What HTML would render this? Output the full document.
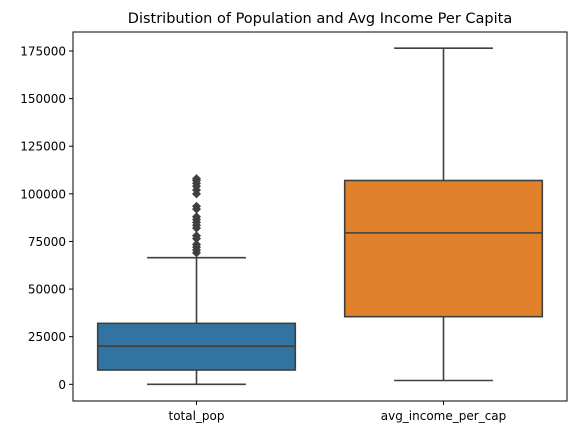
<!DOCTYPE html>
<html><head><meta charset="utf-8"><style>body{margin:0;background:#fff}svg{display:block;font-family:"DejaVu Sans","Liberation Sans",sans-serif}</style></head>
<body>
<svg id="c" width="578" height="435"></svg>
<script>
const categories=["total_pop","avg_income_per_cap"];
const q1s=[7500,35500];
const medians=[20000,79500];
const q3s=[32000,107000];
const whiskLo=[0,2000];
const whiskHi=[66500,176500];
const outliers=[[69000,70500,72000,73500,76500,78000,82000,83500,85000,86500,88000,92000,93500,100000,102000,104000,105500,107000,108000],[]];
const colors=["#3274a1","#e1812c"];
const yTicks=[0,25000,50000,75000,100000,125000,150000,175000];
const L=73,R=567,T=32,B=401;
const y=v=>384.3-v*(333.3/175000);
const xc=i=>L+(R-L)*(i+0.5)/categories.length;
const s=document.getElementById('c');const ns="http://www.w3.org/2000/svg";
function mk(t,a,p){const e=document.createElementNS(ns,t);for(const k in a)e.setAttribute(k,a[k]);(p||s).appendChild(e);return e;}
const title=mk('text',{x:(L+R)/2,y:23,'text-anchor':'middle','font-size':14.5,fill:'#000'});title.textContent="Distribution of Population and Avg Income Per Capita";


yTicks.forEach(v=>{const g=mk('g',{});


mk('line',{x1:L-4,x2:L,y1:y(v),y2:y(v),stroke:'#000'},g);
const t=mk('text',{x:L-7,y:y(v)+4.5,'text-anchor':'end','font-size':12,fill:'#000'},g);t.textContent=v;});
const hw=(R-L)/categories.length*0.4;
categories.forEach((c,i)=>{const g=mk('g',{});


const x=xc(i);const st={stroke:'#3f3f3f','stroke-width':1.6};
mk('line',Object.assign({x1:x,x2:x,y1:y(q3s[i]),y2:y(whiskHi[i])},st),g);
mk('line',Object.assign({x1:x,x2:x,y1:y(q1s[i]),y2:y(whiskLo[i])},st),g);
mk('line',Object.assign({x1:x-hw/2,x2:x+hw/2,y1:y(whiskHi[i]),y2:y(whiskHi[i])},st),g);
mk('line',Object.assign({x1:x-hw/2,x2:x+hw/2,y1:y(whiskLo[i]),y2:y(whiskLo[i])},st),g);
mk('rect',Object.assign({x:x-hw,y:y(q3s[i]),width:2*hw,height:y(q1s[i])-y(q3s[i]),fill:colors[i]},st),g);
mk('line',Object.assign({x1:x-hw,x2:x+hw,y1:y(medians[i]),y2:y(medians[i])},st),g);
outliers[i].forEach(o=>{const d=mk('path',{d:`M${x} ${y(o)-4.5}L${x+4.5} ${y(o)}L${x} ${y(o)+4.5}L${x-4.5} ${y(o)}Z`,fill:'#3f3f3f'},g);

});
mk('line',{x1:x,x2:x,y1:B,y2:B+4,stroke:'#000'},g);
const t=mk('text',{x:x,y:B+19,'text-anchor':'middle','font-size':12,fill:'#000'},g);t.textContent=c;

});
const f=mk('rect',{x:L,y:T,width:R-L,height:B-T,fill:'none',stroke:'#000','stroke-width':1});


</script>
</body></html>
